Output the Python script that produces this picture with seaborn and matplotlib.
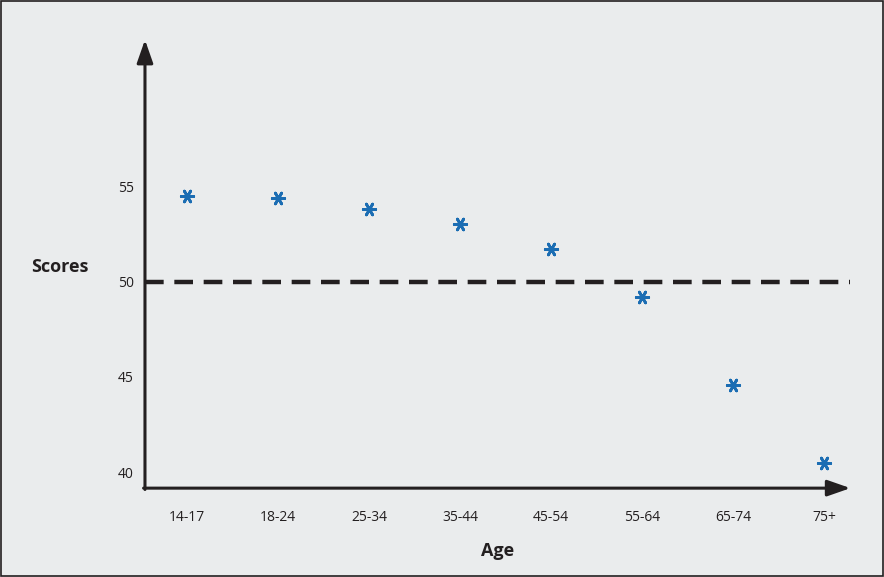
import numpy as np
import pandas as pd
import matplotlib
matplotlib.use("Agg")
import matplotlib.pyplot as plt
import seaborn as sns

ages = ["14-17", "18-24", "25-34", "35-44", "45-54", "55-64", "65-74", "75+"]
scores = [54.5, 54.4, 53.8, 53.05, 51.7, 49.2, 44.6, 40.5]
yticks = [40, 45, 50, 55]
reference = 50

df = pd.DataFrame({"Age": ages, "Scores": scores})
df["pos"] = np.arange(len(ages))

sns.set_style("white")
plt.rcParams["font.family"] = ["Open Sans", "DejaVu Sans"]
bg = "#eaeced"

fig = plt.figure(figsize=(8.84, 5.77), dpi=100, facecolor=bg)
ax = fig.add_axes([0.164, 0.154, 0.798, 0.777])
ax.set_facecolor(bg)

ax.axhline(reference, color="#231f20", lw=3.2, dashes=(4.2, 2.4))
sns.scatterplot(data=df, x="pos", y="Scores", marker=(6, 2, 90), s=80,
                color="#1b6db3", edgecolor="#1b6db3", linewidth=2.0, ax=ax, zorder=3)

ax.set_xlim(-0.46, 7.29)
ax.set_ylim(39.16, 62.7)
ax.set_xticks(df["pos"], ages)
ax.set_yticks(yticks)
ax.tick_params(length=0, labelsize=10, colors="#231f20")
ax.tick_params(axis="x", pad=16)
ax.tick_params(axis="y", pad=8)
for s in ax.spines.values():
    s.set_visible(False)

# axis arrows
arrow = dict(arrowstyle="-|>,head_length=1.0,head_width=0.35", color="#231f20",
             lw=2.2, shrinkA=0, shrinkB=0, mutation_scale=14)
ax.annotate("", xy=(0, 1), xytext=(0, -0.003), xycoords="axes fraction",
            arrowprops=arrow, annotation_clip=False)
ax.annotate("", xy=(1, 0), xytext=(-0.002, 0), xycoords="axes fraction",
            arrowprops=arrow, annotation_clip=False)

ax.set_xlabel("Age", fontsize=13, fontweight="bold", color="#231f20", labelpad=12)
ax.set_ylabel("")
fig.text(0.068, (577 - 267) / 577, "Scores", fontsize=13, fontweight="bold",
         color="#231f20", ha="center", va="center")

# outer frame
fig.patches.append(plt.Rectangle((0.001, 0.001), 0.998, 0.998, transform=fig.transFigure,
                                 fill=False, edgecolor="#231f20", lw=1.2))

fig.savefig("out.png", dpi=100, facecolor=bg)
